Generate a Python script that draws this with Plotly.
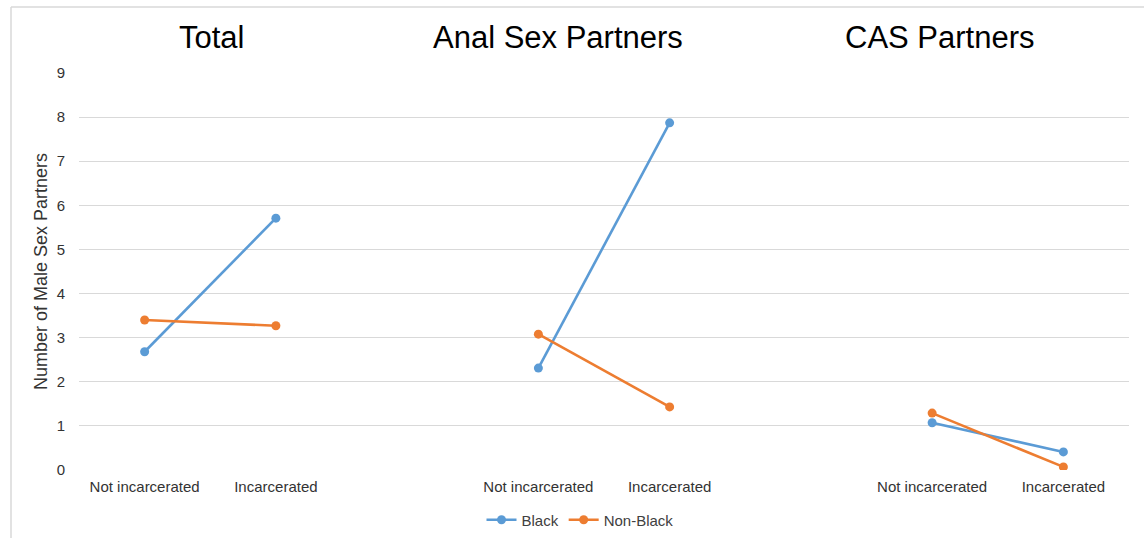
import plotly.graph_objects as go

# ---- data ----
panels = ["Total", "Anal Sex Partners", "CAS Partners"]
conditions = ["Not incarcerated", "Incarcerated"]
black = [2.68, 5.71, 2.31, 7.87, 1.07, 0.41]
non_black = [3.40, 3.27, 3.08, 1.43, 1.29, 0.07]
y_ticks = [0, 1, 2, 3, 4, 5, 6, 7, 8, 9]

W, H = 1144, 538
L, R, T, B = 79, 15, 73, 68
pw, ph = W - L - R, H - T - B


def px_x(px):
    return (px - L) / pw


def px_y(py):
    return (H - B - py) / ph


# x positions: each panel has two categories followed by one blank slot
xs, xlabels = [], []
for p in range(len(panels)):
    for c, name in enumerate(conditions):
        xs.append(p * 3 + c)
        xlabels.append(name)


def with_gaps(vals):
    x_out, y_out = [], []
    for p in range(len(panels)):
        for c in range(len(conditions)):
            x_out.append(p * 3 + c)
            y_out.append(vals[p * 2 + c])
        x_out.append(p * 3 + 2)
        y_out.append(None)
    return x_out, y_out


fig = go.Figure()
for name, vals, color in [("Black", black, "#5B9BD5"), ("Non-Black", non_black, "#ED7D31")]:
    gx, gy = with_gaps(vals)
    fig.add_trace(go.Scatter(
        x=gx, y=gy, name=name, mode="lines+markers",
        connectgaps=False,
        line=dict(color=color, width=2.6),
        marker=dict(color=color, size=9),
    ))

title_pos = [211, 558, 940]
for t, cx in zip(panels, title_pos):
    fig.add_annotation(text=t, xref="paper", yref="paper", x=px_x(cx), y=px_y(38),
                       xanchor="center", yanchor="middle", showarrow=False,
                       font=dict(size=31, color="#000000", family="Liberation Sans, Arial"))

# chart border (partially cropped)
fig.add_shape(type="line", xref="paper", yref="paper", x0=px_x(11), x1=px_x(1150),
              y0=px_y(7), y1=px_y(7), line=dict(color="#d9d9d9", width=1.5))
fig.add_shape(type="line", xref="paper", yref="paper", x0=px_x(11), x1=px_x(11),
              y0=px_y(7), y1=px_y(545), line=dict(color="#d9d9d9", width=1.5))

fig.update_layout(
    width=W, height=H,
    margin=dict(l=L, r=R, t=T, b=B, autoexpand=False),
    paper_bgcolor="white", plot_bgcolor="white",
    font=dict(family="Liberation Sans, Arial", color="#404040", size=15),
    showlegend=True,
    legend=dict(orientation="h", x=px_x(580), y=px_y(520), xanchor="center", yanchor="middle",
                font=dict(size=15, color="#404040"), itemwidth=30, tracegroupgap=0),
    xaxis=dict(range=[-0.5, 7.5], tickmode="array", tickvals=xs, ticktext=xlabels,
               showgrid=False, zeroline=False, showline=False, ticks="",
               ticklabelstandoff=6, tickfont=dict(size=15, color="#333333")),
    yaxis=dict(range=[0, 9], tickmode="array", tickvals=y_ticks,
               showgrid=True, gridcolor="#d9d9d9", gridwidth=1,
               zeroline=False, showline=False, ticks="", ticklabelstandoff=13,
               tickfont=dict(size=15, color="#333333"),
               title=dict(text="Number of Male Sex Partners", standoff=4,
                          font=dict(size=18, color="#333333"))),
)

fig.write_html("out.html")
